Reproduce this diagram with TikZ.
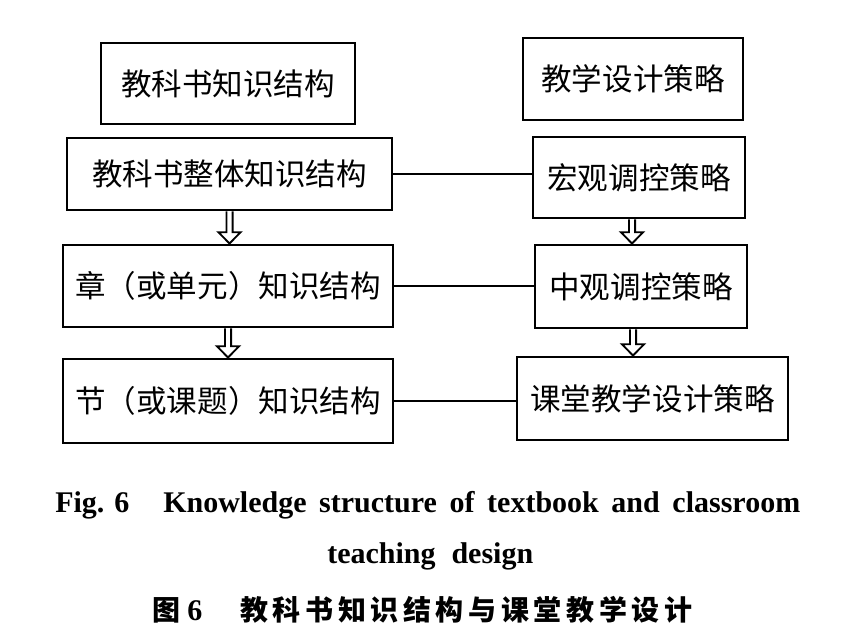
\documentclass[tikz,border=0pt]{standalone}
\usepackage{fontspec}
\setmainfont{Liberation Serif}
\newfontfamily\cjk{Noto Sans CJK SC}
\usetikzlibrary{calc}
\newcommand\capfont{\fontsize{22.5pt}{26pt}\selectfont\bfseries}
\newcommand\cjkcap{\fontsize{21pt}{24pt}\selectfont\cjk\bfseries}
\newcommand\boxfont{\fontsize{22.9pt}{26pt}\selectfont\cjk}
\begin{document}
\begin{tikzpicture}[x=0.75pt,y=-0.75pt,
  box/.style={draw, line width=2.2pt, inner sep=0pt, font=\boxfont},
  conn/.style={line width=1.6pt},
  harrow/.style={line width=1.4pt, line join=miter,
    to path={let \p1=(\tikztostart), \p2=(\tikztotarget) in
      (\x1-2.3pt,\y1) -- (\x1-2.3pt,\y2+8.5pt) -- (\x1-8.3pt,\y2+8.5pt) -- (\x1,\y2)
      -- (\x1+8.3pt,\y2+8.5pt) -- (\x1+2.3pt,\y2+8.5pt) -- (\x1+2.3pt,\y1)}},
  captext/.style={anchor=base west, inner sep=0pt}]
\fill[white] (0,0) rectangle (849,630);
\useasboundingbox (0,0) rectangle (849,630);

% left column
\node[box, minimum width=190.5pt, minimum height=60.75pt] (L0) at (228,83.5) {教科书知识结构};
\node[box, minimum width=243.75pt, minimum height=54pt] (L1) at (229.5,174) {教科书整体知识结构};
\node[box, minimum width=247.5pt, minimum height=61.5pt] (L2) at (228,286) {章（或单元）知识结构};
\node[box, minimum width=247.5pt, minimum height=63pt] (L3) at (228,401) {节（或课题）知识结构};

% right column
\node[box, minimum width=165pt, minimum height=61.5pt] (R0) at (633,79) {教学设计策略};
\node[box, minimum width=159pt, minimum height=60.75pt] (R1) at (639,177.5) {宏观调控策略};
\node[box, minimum width=159pt, minimum height=62.25pt] (R2) at (641,286.5) {中观调控策略};
\node[box, minimum width=203.25pt, minimum height=62.25pt] (R3) at (652.5,398.5) {课堂教学设计策略};

% horizontal connectors
\draw[conn] (L1.east) -- (L1.east -| R1.west);
\draw[conn] (L2.east) -- (L2.east -| R2.west);
\draw[conn] (L3.east) -- (L3.east -| R3.west);

% hollow arrows
\coordinate (ax1) at (632,0);
\coordinate (ax2) at (633,0);
\draw[harrow] (L1.south) to (L2.north);
\draw[harrow] (L2.south) to (L3.north);
\draw[harrow] (R1.south -| ax1) to (R2.north -| ax1);
\draw[harrow] (R2.south -| ax2) to (R3.north -| ax2);

% caption
\node[captext, font=\capfont] (c1a) at (55,512) {Fig. 6};
\node[captext, font=\capfont] (c1b) at (163,512) {\makebox[477.75pt][s]{Knowledge structure of textbook and classroom}};
\node[captext, font=\capfont] (c2) at (327,563) {\makebox[154.5pt][s]{teaching design}};
\node[captext, font=\cjkcap] (c3a) at (152,620) {图};
\node[captext, font=\capfont] (c3b) at (187,620) {6};
\node[captext, font=\cjkcap] (c3c) at (240,620) {\makebox[339pt][s]{教\hfill 科\hfill 书\hfill 知\hfill 识\hfill 结\hfill 构\hfill 与\hfill 课\hfill 堂\hfill 教\hfill 学\hfill 设\hfill 计}};
\end{tikzpicture}
\end{document}
